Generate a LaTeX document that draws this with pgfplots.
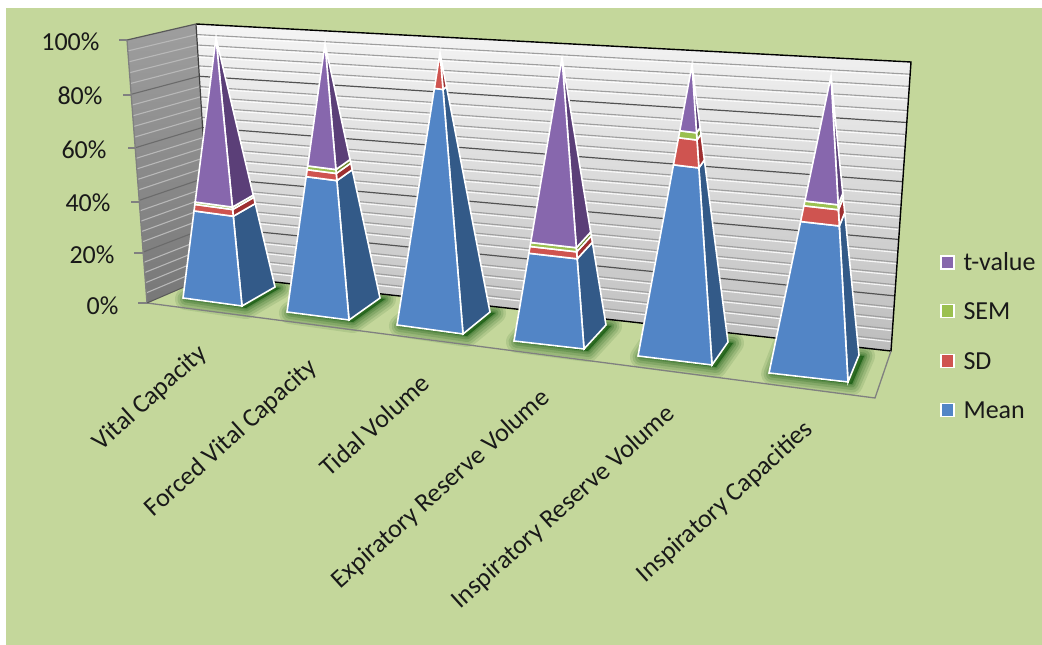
\documentclass[border=0pt]{standalone}
\usepackage{pgfplots}
\pgfplotsset{compat=1.18}
\usepackage{fontspec}
\setmainfont{Carlito}

\definecolor{panel}{HTML}{C4D79B}
\definecolor{meanF}{HTML}{5285C6}\definecolor{meanS}{HTML}{335A88}
\definecolor{sdF}{HTML}{CF5450}\definecolor{sdS}{HTML}{9E2F30}
\definecolor{semF}{HTML}{9BC050}\definecolor{semS}{HTML}{6C8A2E}
\definecolor{tvF}{HTML}{8767AD}\definecolor{tvS}{HTML}{5B3F78}

% Geometry of the pyramid being drawn: base left, base corner, base right, apex
\newcommand\setpyramid[8]{%
  \def\Lx{#1}\def\Ly{#2}\def\Cx{#3}\def\Cy{#4}\def\Rx{#5}\def\Ry{#6}\def\Ax{#7}\def\Ay{#8}}

% One stacked slice between the cumulative shares #3 and #4 (per cent)
\newcommand\slice[4]{%
  \ifdim#4 pt>#3 pt\relax
  \pgfmathsetmacro\fa{#3/100}\pgfmathsetmacro\fb{#4/100}%
  \pgfmathsetmacro\aLx{\Lx+(\Ax-\Lx)*\fa}\pgfmathsetmacro\aLy{\Ly+(\Ay-\Ly)*\fa}%
  \pgfmathsetmacro\aCx{\Cx+(\Ax-\Cx)*\fa}\pgfmathsetmacro\aCy{\Cy+(\Ay-\Cy)*\fa}%
  \pgfmathsetmacro\aRx{\Rx+(\Ax-\Rx)*\fa}\pgfmathsetmacro\aRy{\Ry+(\Ay-\Ry)*\fa}%
  \pgfmathsetmacro\bLx{\Lx+(\Ax-\Lx)*\fb}\pgfmathsetmacro\bLy{\Ly+(\Ay-\Ly)*\fb}%
  \pgfmathsetmacro\bCx{\Cx+(\Ax-\Cx)*\fb}\pgfmathsetmacro\bCy{\Cy+(\Ay-\Cy)*\fb}%
  \pgfmathsetmacro\bRx{\Rx+(\Ax-\Rx)*\fb}\pgfmathsetmacro\bRy{\Ry+(\Ay-\Ry)*\fb}%
  \edef\drawslice{%
    \noexpand\addplot[pyrface,fill=#2] coordinates
      {(\aCx,\aCy) (\aRx,\aRy) (\bRx,\bRy) (\bCx,\bCy)} --cycle;
    \noexpand\addplot[pyrface,fill=#1] coordinates
      {(\aLx,\aLy) (\aCx,\aCy) (\bCx,\bCy) (\bLx,\bLy)} --cycle;}%
  \drawslice
  \fi}

% Stack of Mean, SD, SEM and t-value shares on the current pyramid
\newcommand\stackpyramid[4]{%
  \pgfmathsetmacro\cA{#1}\pgfmathsetmacro\cB{#1+#2}%
  \pgfmathsetmacro\cC{#1+#2+#3}\pgfmathsetmacro\cD{#1+#2+#3+#4}%
  \slice{meanF}{meanS}{0}{\cA}%
  \slice{sdF}{sdS}{\cA}{\cB}%
  \slice{semF}{semS}{\cB}{\cC}%
  \slice{tvF}{tvS}{\cC}{\cD}}

% Soft contact shadow: nested outlines of the base, offset a little to the right
\newcommand\shadowring[2]{%
  \addplot[fill=black!70!green,draw=black!70!green,line width=#1pt,line join=round,opacity=#2]
    coordinates {(\Lx,\Ly) (\Cx,\Cy) (\Rx,\Ry) (\Ax,\Ay)} --cycle;}
\newcommand\floorshadow[8]{%
  \setpyramid{#1}{#2}{#3}{#4}{#5}{#6}{#7}{#8}%
  \edef\drawshadow{%
    \noexpand\shadowring{22}{.10}\noexpand\shadowring{17}{.12}%
    \noexpand\shadowring{12}{.14}\noexpand\shadowring{7}{.18}\noexpand\shadowring{3}{.2}}%
  \drawshadow}

\begin{document}
\begin{tikzpicture}
\begin{axis}[
  scale only axis,width=1042pt,height=645pt,
  xmin=0,xmax=1042,ymin=0,ymax=645,y dir=reverse,
  hide axis,clip=true,
  pyrface/.style={draw=white,line width=1.6pt,line join=miter,miter limit=12},
]
% page and panel
\addplot[fill=white,draw=none] coordinates {(0,0) (1042,0) (1042,645) (0,645)} --cycle;
\addplot[fill=panel,draw=none] coordinates {(6,8) (1042,8) (1042,645) (6,645)} --cycle;

% shadows that fall on the floor
\floorshadow{186}{299}{246}{308}{280}{288}{219}{279}
\floorshadow{290}{313}{353}{322}{385}{299}{321}{290}
\floorshadow{400}{326}{467}{336}{495}{313}{427}{303}
\floorshadow{517}{342}{588}{351}{611}{326}{539}{317}
\floorshadow{641}{357}{716}{367}{733}{343}{657}{333}
\floorshadow{772}{374}{852}{384}{864}{356}{783}{346}

% side wall and back wall
\addplot[draw=none,top color=white!62!black,bottom color=white!47!black]
  coordinates {(127,40) (196,24) (212,275) (147,303)} --cycle;
\addplot[draw=none,top color=white!96!black,bottom color=white!74!black]
  coordinates {(196,24) (911,62) (891,351) (212,275)} --cycle;

% minor gridlines on both walls
\pgfplotsinvokeforeach{4,8,12,16,24,28,32,36,44,48,52,56,64,68,72,76,84,88,92,96}{
  \draw[white!62!black,line width=1.1pt]
    (axis cs:{212-.16*#1},{275-#1*(2.38+.0013*#1)}) -- (axis cs:{891+.2*#1},{351-#1*(2.72+.0017*#1)});
  \draw[white,line width=1.1pt,opacity=.85]
    (axis cs:{212-.16*#1},{276.6-#1*(2.38+.0013*#1)}) -- (axis cs:{891+.2*#1},{352.6-#1*(2.72+.0017*#1)});
  \draw[white!72!black,line width=1.1pt]
    (axis cs:{147-.2*#1},{303-#1*(2.52+.0011*#1)}) -- (axis cs:{212-.16*#1},{275-#1*(2.38+.0013*#1)});
}
% major gridlines on both walls
\pgfplotsinvokeforeach{20,40,60,80}{
  \draw[white!32!black,line width=1.2pt]
    (axis cs:{212-.16*#1},{275-#1*(2.38+.0013*#1)}) -- (axis cs:{891+.2*#1},{351-#1*(2.72+.0017*#1)});
  \draw[white!42!black,line width=1.1pt]
    (axis cs:{147-.2*#1},{303-#1*(2.52+.0011*#1)}) -- (axis cs:{212-.16*#1},{275-#1*(2.38+.0013*#1)});
}
% wall outlines and floor edges
\addplot[black,line width=1.4pt] coordinates {(196,24) (911,62) (891,351) (212,275)};
\addplot[white!25!black,line width=1.2pt] coordinates {(196,24) (212,275)};
\addplot[white!35!black,line width=1.2pt] coordinates {(127,40) (196,24)};
\addplot[white!50!black,line width=1.3pt] coordinates {(127,40) (147,303) (875,398) (891,351)};
\addplot[white!35!black,line width=1pt] coordinates {(147,303) (212,275)};

% value axis ticks
\addplot[white!50!black,line width=1.2pt] coordinates {(119,40) (127,40)};
\addplot[white!50!black,line width=1.2pt] coordinates {(123,95) (132,95)};
\addplot[white!50!black,line width=1.2pt] coordinates {(128,148) (136,148)};
\addplot[white!50!black,line width=1.2pt] coordinates {(131,202) (140,202)};
\addplot[white!50!black,line width=1.2pt] coordinates {(134,253) (143,253)};
\addplot[white!50!black,line width=1.2pt] coordinates {(138,303) (147,303)};

% stacked pyramids: Mean, SD, SEM, t-value
\setpyramid{183}{298}{242}{306}{275}{287}{216}{38}
\stackpyramid{33.5}{2.5}{0.9}{63.1}
\setpyramid{287}{312}{349}{320}{380}{298}{325}{44}
\stackpyramid{50.5}{2.6}{1.4}{45.5}
\setpyramid{397}{325}{463}{334}{490}{312}{440}{53}
\stackpyramid{87}{13}{0}{0}
\setpyramid{514}{341}{584}{349}{606}{325}{562}{58}
\stackpyramid{31}{2.4}{1.4}{65.2}
\setpyramid{638}{356}{712}{365}{728}{342}{692}{65}
\stackpyramid{65.7}{9.3}{2.4}{22.6}
\setpyramid{769}{373}{848}{382}{859}{355}{831}{76}
\stackpyramid{51}{5.3}{1.6}{42.1}

% value axis labels
\begin{scope}[font=\fontsize{26}{26}\selectfont,text=black!90]
\node[anchor=east] at (axis cs:103,42) {100\%};
\node[anchor=east] at (axis cs:106,96) {80\%};
\node[anchor=east] at (axis cs:110,150) {60\%};
\node[anchor=east] at (axis cs:114,203) {40\%};
\node[anchor=east] at (axis cs:118,255) {20\%};
\node[anchor=east] at (axis cs:122,306) {0\%};

% category labels
\node[anchor=east,rotate=42] at (axis cs:206,348) {Vital Capacity};
\node[anchor=east,rotate=42] at (axis cs:316,362) {Forced Vital Capacity};
\node[anchor=east,rotate=42] at (axis cs:428,377) {Tidal Volume};
\node[anchor=east,rotate=42] at (axis cs:549,392) {Expiratory Reserve Volume};
\node[anchor=east,rotate=42] at (axis cs:674,408) {Inspiratory Reserve Volume};
\node[anchor=east,rotate=42] at (axis cs:812,424) {Inspiratory Capacities};

% legend
\node[anchor=west] at (axis cs:960,262) {t-value};
\node[anchor=west] at (axis cs:960,311) {SEM};
\node[anchor=west] at (axis cs:960,361) {SD};
\node[anchor=west] at (axis cs:960,410) {Mean};
\end{scope}
\addplot[only marks,mark=square*,mark size=6.5pt,mark options={fill=tvF,draw=white,line width=1.5pt}] coordinates {(947.5,262.5)};
\addplot[only marks,mark=square*,mark size=6.5pt,mark options={fill=semF,draw=white,line width=1.5pt}] coordinates {(947.5,311)};
\addplot[only marks,mark=square*,mark size=6.5pt,mark options={fill=sdF,draw=white,line width=1.5pt}] coordinates {(947.5,361)};
\addplot[only marks,mark=square*,mark size=6.5pt,mark options={fill=meanF,draw=white,line width=1.5pt}] coordinates {(947.5,410)};
\end{axis}
\end{tikzpicture}
\end{document}
